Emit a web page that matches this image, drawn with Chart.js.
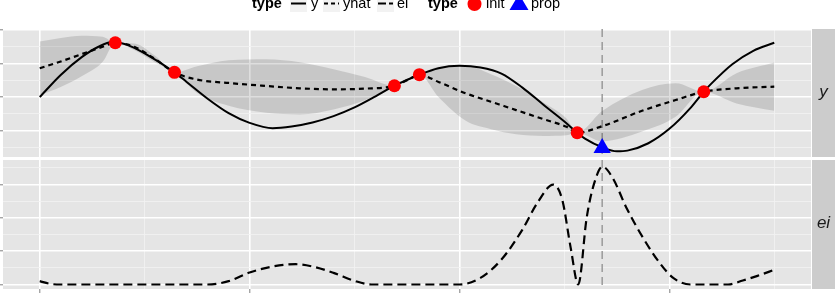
<!DOCTYPE html>
<html>
<head>
<meta charset="utf-8">
<script src="https://cdn.jsdelivr.net/npm/chart.js@4"></script>
<style>
  body { margin: 0; background: #fff; width: 839px; height: 294px; overflow: hidden; position: relative;
         font-family: "Liberation Sans", Arial, sans-serif; }
  canvas { position: absolute; left: 0; top: 0; }
  .lg { position: absolute; top: -4px; line-height: 15px; font-size: 14.5px; color: #000; white-space: nowrap; }
  .lg.b { font-weight: bold; }
  .key { position: absolute; }
  .strip { position: absolute; left: 812px; width: 23px; background: #CCCCCC; }
  .strip span { position: absolute; left: 0; width: 23px; text-align: center; font-style: italic;
                font-size: 17px; color: #1A1A1A; }
</style>
</head>
<body>
<canvas id="top" width="839" height="294"></canvas>
<canvas id="bottom" width="839" height="294"></canvas>

<!-- legend -->
<span class="lg b" style="left:252px">type</span>
<svg class="key" style="left:290px;top:-5px" width="17" height="17"><rect width="17" height="17" fill="#F2F2F2"/><line x1="1" y1="8.5" x2="16" y2="8.5" stroke="#000" stroke-width="2"/></svg>
<span class="lg" style="left:311px">y</span>
<svg class="key" style="left:323px;top:-5px" width="17" height="17"><rect width="17" height="17" fill="#F2F2F2"/><line x1="1" y1="8.5" x2="16" y2="8.5" stroke="#000" stroke-width="2" stroke-dasharray="4 3"/></svg>
<span class="lg" style="left:343px">yhat</span>
<svg class="key" style="left:377px;top:-5px" width="17" height="17"><rect width="17" height="17" fill="#F2F2F2"/><line x1="1" y1="8.5" x2="16" y2="8.5" stroke="#000" stroke-width="2" stroke-dasharray="8 3"/></svg>
<span class="lg" style="left:397px">ei</span>
<span class="lg b" style="left:428px">type</span>
<svg class="key" style="left:466px;top:-4px" width="17" height="17"><circle cx="8.5" cy="8" r="7" fill="#FF0000"/></svg>
<span class="lg" style="left:486px">init</span>
<svg class="key" style="left:509px;top:-7px" width="20" height="19"><polygon points="10,1 19.5,17 0.5,17" fill="#0000FF"/></svg>
<span class="lg" style="left:531px">prop</span>

<!-- facet strips -->
<div class="strip" style="top:29px;height:128px"><span style="top:53px">y</span></div>
<div class="strip" style="top:160px;height:129px"><span style="top:53px">ei</span></div>

<script>
// grid / tick positions
const xMajor = [0, 1, 2, 3];
const xMinor = [0.5, 1.5, 2.5, 3.5];
const yMajor = [-1, 0, 1, 2];
const yMinor = [-1.5, -0.5, 0.5, 1.5];
const eiMajor = [0, 0.1, 0.2, 0.3];
const eiMinor = [0.05, 0.15, 0.25, 0.35];

// true function y
const trueX = [0, 0.1, 0.2, 0.28, 0.345, 0.42, 0.5, 0.642, 0.7, 0.8, 0.9, 1.0, 1.11, 1.2, 1.3, 1.4, 1.5, 1.6, 1.69, 1.809,
               1.9, 2.0, 2.1, 2.2, 2.3, 2.4, 2.5, 2.561, 2.6, 2.68, 2.75, 2.8, 2.9, 3.0, 3.1, 3.164, 3.2, 3.3, 3.4, 3.5];
const trueY = [0, 0.66, 1.19, 1.50, 1.64, 1.55, 1.30, 0.737, 0.45, -0.05, -0.48, -0.77, -0.93, -0.88, -0.76, -0.57, -0.31, 0.02, 0.337, 0.666,
               0.86, 0.93, 0.88, 0.70, 0.28, -0.23, -0.73, -1.066, -1.25, -1.50, -1.62, -1.60, -1.38, -0.95, -0.33, 0.158, 0.40, 0.98, 1.38, 1.62];

// model mean yhat and its band
const hatX  = [0, 0.1, 0.2, 0.3, 0.36, 0.45, 0.55, 0.642, 0.75, 0.9, 1.08, 1.24, 1.4, 1.55, 1.69, 1.75, 1.809,
               1.9, 2.03, 2.15, 2.27, 2.4, 2.51, 2.561, 2.68, 2.87, 3.03, 3.164, 3.32, 3.5];
const hatY  = [0.857, 1.06, 1.28, 1.50, 1.62, 1.50, 1.13, 0.737, 0.52, 0.42, 0.33, 0.26, 0.23, 0.25, 0.337, 0.50, 0.666,
               0.45, 0.11, -0.14, -0.39, -0.66, -0.89, -1.066, -0.87, -0.41, -0.09, 0.158, 0.26, 0.31];
const hatLo = [0.057, 0.30, 0.62, 1.05, 1.62, 1.40, 1.03, 0.737, 0.12, -0.26, -0.47, -0.52, -0.37, -0.10, 0.337, 0.46, 0.666,
               0.00, -0.71, -0.96, -1.11, -1.16, -1.14, -1.066, -1.32, -1.03, -0.59, 0.158, -0.19, -0.41];
const hatHi = [1.657, 1.76, 1.83, 1.80, 1.62, 1.60, 1.23, 0.737, 0.92, 1.10, 1.13, 1.04, 0.83, 0.60, 0.337, 0.54, 0.666,
               0.90, 0.93, 0.68, 0.33, -0.16, -0.64, -1.066, -0.42, 0.21, 0.41, 0.158, 0.71, 1.03];

// design points and the proposal
const initX = [0.36, 0.642, 1.69, 1.809, 2.561, 3.164];
const initY = [1.62, 0.737, 0.337, 0.666, -1.066, 0.158];
const propX = 2.68;
const propY = -1.52;

// expected improvement
const eiX = [0, 0.05, 0.1, 0.8, 0.9, 1.0, 1.1, 1.22, 1.3, 1.4, 1.5, 1.58, 2.0, 2.1, 2.2, 2.3, 2.37, 2.447, 2.49, 2.53,
             2.566, 2.606, 2.64, 2.682, 2.73, 2.796, 2.875, 2.955, 3.02, 3.1, 3.28, 3.35, 3.42, 3.5];
const eiY = [0.01, 0.002, 0, 0, 0.01, 0.036, 0.053, 0.061, 0.054, 0.035, 0.011, 0, 0, 0.02, 0.075, 0.165, 0.244, 0.30, 0.254, 0.11,
             0, 0.20, 0.30, 0.354, 0.32, 0.23, 0.14, 0.064, 0.019, 0, 0, 0.012, 0.026, 0.044];

const pts = (xs, ys) => xs.map((x, i) => ({ x: x, y: ys[i] }));

// ggplot-ish panel: grey background + vertical dashed line at the proposal
const panel = {
  id: 'panel',
  beforeDraw(chart) {
    const { ctx, chartArea: a } = chart;
    ctx.save();
    ctx.fillStyle = '#E5E5E5';
    ctx.fillRect(a.left, a.top, a.width, a.height);
    ctx.restore();
  },
  beforeDatasetsDraw(chart) {
    const { ctx, chartArea: a, scales } = chart;
    const px = scales.x.getPixelForValue(propX);
    ctx.save();
    ctx.strokeStyle = '#9A9A9A';
    ctx.lineWidth = 1.5;
    ctx.setLineDash([8, 5]);
    ctx.beginPath();
    ctx.moveTo(px, a.top);
    ctx.lineTo(px, a.bottom);
    ctx.stroke();
    ctx.restore();
  }
};

function gridAxis(major, minor, min, max, fitKey, drawTicks) {
  const all = major.concat(minor).sort((a, b) => a - b);
  const isMajor = v => major.some(m => Math.abs(m - v) < 1e-9);
  return {
    type: 'linear', min: min, max: max,
    afterBuildTicks: s => { s.ticks = all.map(v => ({ value: v })); },
    afterFit: s => { s[fitKey] = 0; },
    ticks: { display: false },
    border: { display: false },
    grid: {
      drawTicks: drawTicks,
      tickLength: 4,
      color: c => isMajor(c.tick.value) ? '#FFFFFF' : '#F2F2F2',
      lineWidth: c => isMajor(c.tick.value) ? 1.6 : 0.8,
      tickColor: c => isMajor(c.tick.value) ? '#7F7F7F' : 'rgba(0,0,0,0)',
      tickWidth: 1
    }
  };
}

const xMin = -0.175, xMax = 3.675;

new Chart(document.getElementById('top'), {
  type: 'line',
  data: {
    datasets: [
      { data: pts(initX, initY), showLine: false, pointRadius: 6.5, pointHoverRadius: 6.5,
        pointBackgroundColor: '#FF0000', pointBorderWidth: 0, order: 0 },
      { data: [{ x: propX, y: propY }], showLine: false, pointStyle: 'triangle', pointRadius: 10,
        pointBackgroundColor: '#0000FF', pointBorderWidth: 0, order: 0 },
      { data: pts(trueX, trueY), borderColor: '#000', borderWidth: 2, pointRadius: 0,
        cubicInterpolationMode: 'monotone', order: 1 },
      { data: pts(hatX, hatY), borderColor: '#000', borderWidth: 2.2, borderDash: [5, 4], pointRadius: 0,
        cubicInterpolationMode: 'monotone', order: 2 },
      { data: pts(hatX, hatHi), borderWidth: 0, pointRadius: 0, fill: '+1',
        backgroundColor: 'rgba(0,0,0,0.13)', cubicInterpolationMode: 'monotone', order: 3 },
      { data: pts(hatX, hatLo), borderWidth: 0, pointRadius: 0, fill: false,
        cubicInterpolationMode: 'monotone', order: 3 }
    ]
  },
  options: {
    responsive: false,
    animation: false,
    layout: { autoPadding: false, padding: { left: 3, top: 29, right: 28, bottom: 137 } },
    plugins: { legend: { display: false }, tooltip: { enabled: false } },
    scales: {
      x: gridAxis(xMajor, xMinor, xMin, xMax, 'height', false),
      y: gridAxis(yMajor, yMinor, -1.79, 2.03, 'width', true)
    }
  },
  plugins: [panel]
});

new Chart(document.getElementById('bottom'), {
  type: 'line',
  data: {
    datasets: [
      { data: pts(eiX, eiY), borderColor: '#000', borderWidth: 2.2, borderDash: [9, 5], pointRadius: 0,
        cubicInterpolationMode: 'monotone' }
    ]
  },
  options: {
    responsive: false,
    animation: false,
    layout: { autoPadding: false, padding: { left: 3, top: 160, right: 28, bottom: 5 } },
    plugins: { legend: { display: false }, tooltip: { enabled: false } },
    scales: {
      x: gridAxis(xMajor, xMinor, xMin, xMax, 'height', true),
      y: gridAxis(eiMajor, eiMinor, -0.0135, 0.374, 'width', true)
    }
  },
  plugins: [panel]
});
</script>
</body>
</html>
